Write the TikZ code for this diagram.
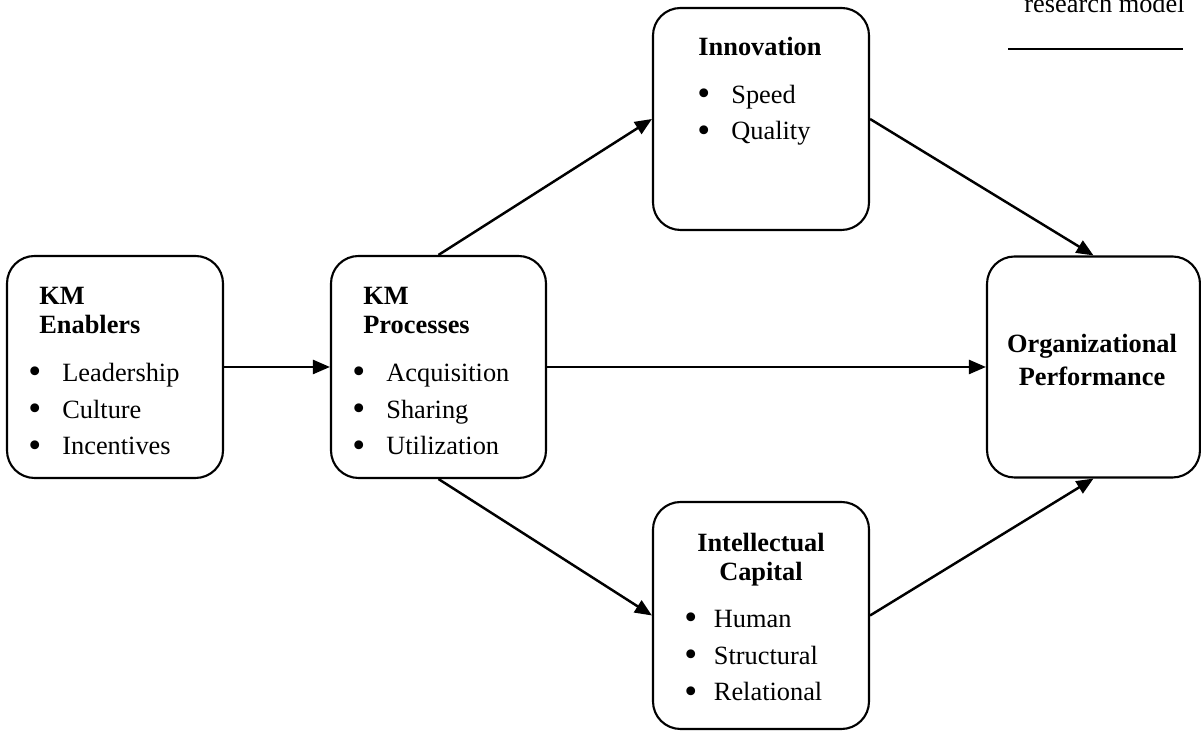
\documentclass[tikz,border=0pt]{standalone}
\usepackage{fontspec}
\setmainfont{Liberation Serif}
\usetikzlibrary{arrows.meta,positioning}

\tikzset{
  block/.style={draw, line width=1.2pt, rounded corners=0.55cm, inner sep=0pt},
  link/.style={line width=1.4pt, -{Triangle[length=3.4mm,width=2.8mm]}},
  head/.style={inner sep=0pt, font=\fontsize{15}{17}\selectfont\bfseries},
  items/.style={inner sep=0pt, align=left, font=\fontsize{15}{21}\selectfont},
}
\newcommand{\bul}[1][0.68cm]{\makebox[#1][l]{\raisebox{-1.6pt}{\fontsize{21}{21}\selectfont\textbullet}}}

\begin{document}
\begin{tikzpicture}
\useasboundingbox (0,0) rectangle (24.02,14.62);
\node[block, minimum width=4.32cm, minimum height=4.44cm] (enab) at (2.30,7.28) {};
\node[block, minimum width=4.30cm, minimum height=4.44cm] (proc) at (8.77,7.28) {};
\node[block, minimum width=4.32cm, minimum height=4.44cm] (innov) at (15.22,12.24) {};
\node[block, minimum width=4.32cm, minimum height=4.54cm] (intel) at (15.22,2.31) {};
\node[block, minimum width=4.26cm, minimum height=4.42cm] (perf) at (21.87,7.28) {};

\node[head, anchor=base west, align=left] (enabhead) at (0.78,7.94) {KM\\Enablers};
\node[items, anchor=base west] (enablist) at (0.56,5.52) {\bul Leadership\\\bul Culture\\\bul Incentives};
\node[head, anchor=base west, align=left] (prochead) at (7.26,7.94) {KM\\Processes};
\node[items, anchor=base west] (proclist) at (7.04,5.52) {\bul Acquisition\\\bul Sharing\\\bul Utilization};
\node[head, anchor=base] (innovhead) at (15.20,13.50) {Innovation};
\node[items, anchor=base west] (innovlist) at (13.94,11.82) {\bul Speed\\\bul Quality};
\node[head, anchor=base, align=center] (intelhead) at (15.22,3.00) {Intellectual\\Capital};
\node[items, anchor=base west] (intellist) at (13.68,0.60) {\bul[0.46cm] Human\\\bul[0.46cm] Structural\\\bul[0.46cm] Relational};
\node[head, align=center, font=\fontsize{15}{19}\selectfont\bfseries] (perftext) at (21.84,7.42) {Organizational\\Performance};

\draw[link] (enab) -- (proc);
\draw[link] (proc) -- (perf);
\draw[link] (proc.north) -- (innov.west);
\draw[link] (innov.east) -- (perf.north);
\draw[link] (proc.south) -- (intel.west);
\draw[link] (intel.east) -- (perf.south);

\node[inner sep=0pt, anchor=base, font=\fontsize{15}{18}\selectfont] (title) at (22.09,14.36) {research model};
\coordinate (ruleL) at (20.16,13.64);
\coordinate (ruleR) at (23.66,13.64);
\draw[line width=0.8pt] (ruleL) -- (ruleR);
\end{tikzpicture}
\end{document}
